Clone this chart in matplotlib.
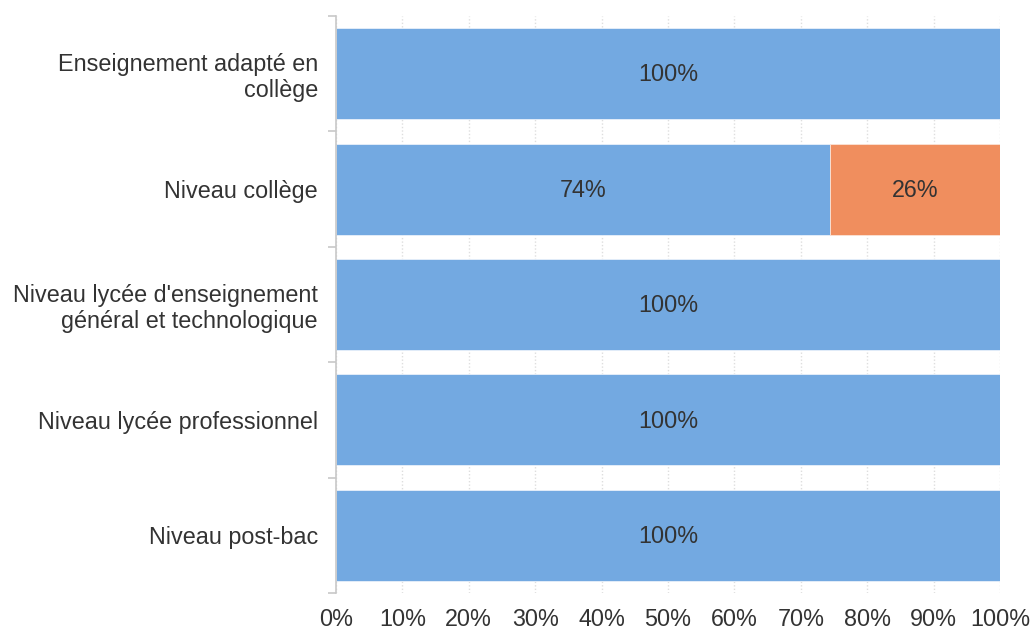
import numpy as np
import matplotlib.pyplot as plt
from matplotlib.ticker import FixedLocator

plt.rcParams['font.family'] = ['Liberation Sans', 'DejaVu Sans']

categories = [
    "Enseignement adapté en\ncollège",
    "Niveau collège",
    "Niveau lycée d'enseignement\ngénéral et technologique",
    "Niveau lycée professionnel",
    "Niveau post-bac",
]
serie_a = [100, 74.4, 100, 100, 100]
serie_b = [0, 25.6, 0, 0, 0]
x_ticks = [0, 10, 20, 30, 40, 50, 60, 70, 80, 90, 100]

blue = "#73a9e1"
orange = "#f08e5e"
text_color = "#333333"
fs = 16.8

fig = plt.figure(figsize=(10.32, 6.32), dpi=100)
ax = fig.add_axes([336 / 1032, 1 - 593 / 632, 664 / 1032, 577 / 632])

y = np.arange(len(categories))
bars_a = ax.barh(y, serie_a, height=0.79, color=blue, edgecolor="#e8f0fa",
                 linewidth=0.6, zorder=2)
bars_b = ax.barh(y, serie_b, left=serie_a, height=0.79, color=orange,
                 edgecolor="#fbe3d6", linewidth=0.6, zorder=2)

for bars in (bars_a, bars_b):
    for b in bars:
        w = b.get_width()
        if w > 0:
            ax.text(b.get_x() + w / 2, b.get_y() + b.get_height() / 2 + 0.01,
                    f"{w:.0f}%", ha="center", va="center",
                    fontsize=fs, color=text_color, zorder=3)

ax.set_xlim(0, 100)
ax.set_ylim(len(categories) - 0.5, -0.5)
ax.set_xticks(x_ticks)
ax.set_xticklabels([f"{v}%" for v in x_ticks])
ax.set_yticks(y)
ax.set_yticklabels(categories, linespacing=1.15)
ax.yaxis.set_minor_locator(FixedLocator(np.arange(-0.5, len(categories), 1.0)))

ax.tick_params(axis="x", length=0, pad=11, labelsize=fs, labelcolor=text_color)
ax.tick_params(axis="y", which="major", length=0, pad=13, labelsize=fs,
               labelcolor=text_color)
ax.tick_params(axis="y", which="minor", length=6, width=1.2, color="#c8c8c8")

ax.grid(axis="x", linestyle=(0, (1, 1.5)), color="#dedede", linewidth=1, zorder=0)
for s in ("top", "right", "bottom"):
    ax.spines[s].set_visible(False)
ax.spines["left"].set_color("#c8c8c8")
ax.spines["left"].set_linewidth(1.2)

fig.savefig("out.png", dpi=100)
